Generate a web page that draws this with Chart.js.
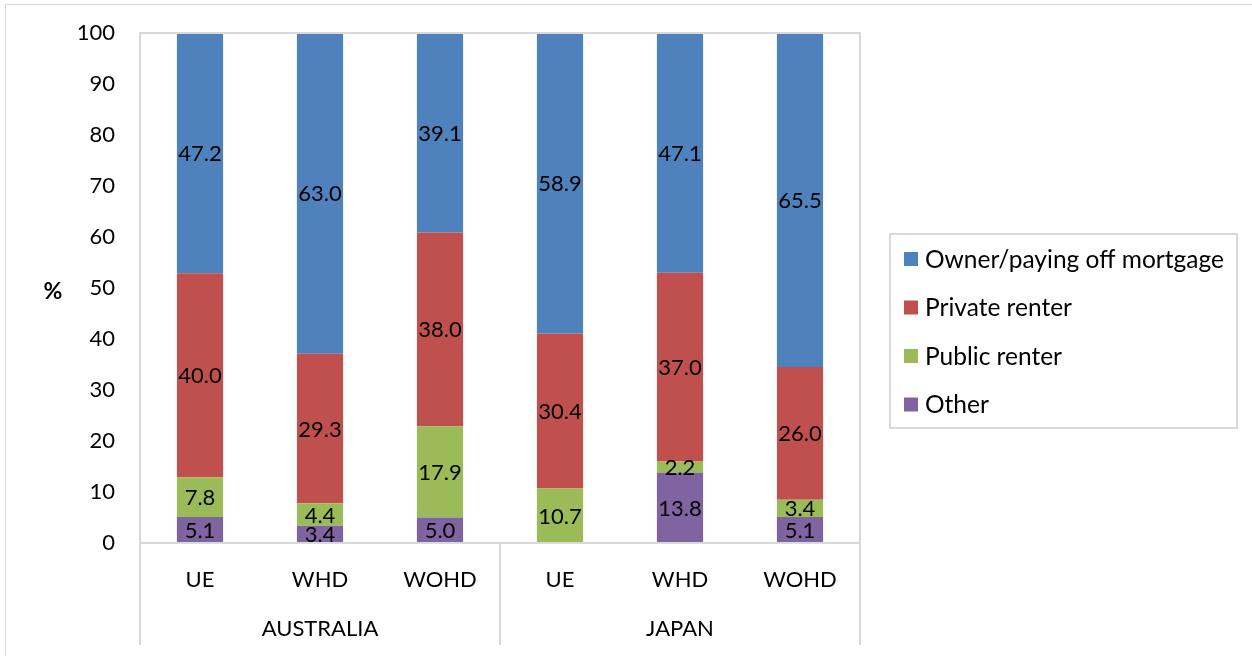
<!DOCTYPE html>
<html>
<head>
<meta charset="utf-8">
<script src="https://cdn.jsdelivr.net/npm/chart.js@4"></script>
<style>
html,body{margin:0;padding:0;background:#fff;}
#wrap{width:1252px;height:656px;position:relative;}
</style>
</head>
<body>
<div id="wrap"><canvas id="c" width="1252" height="656"></canvas></div>
<script>
const categories = ["UE", "WHD", "WOHD", "UE", "WHD", "WOHD"];
const groups = ["AUSTRALIA", "JAPAN"];
const groupSizes = [3, 3];
const seriesNames = ["Other", "Public renter", "Private renter", "Owner/paying off mortgage"];
const other = [5.1, 3.4, 5.0, 0, 13.8, 5.1];
const publicRenter = [7.8, 4.4, 17.9, 10.7, 2.2, 3.4];
const privateRenter = [40.0, 29.3, 38.0, 30.4, 37.0, 26.0];
const owner = [47.2, 63.0, 39.1, 58.9, 47.1, 65.5];
const yTicks = [0, 10, 20, 30, 40, 50, 60, 70, 80, 90, 100];
const colors = ["#8064A2", "#9BBB59", "#C0504D", "#4F81BD"];

const FONT = "Lato, 'Open Sans', 'Liberation Sans', sans-serif";
const GRID = "#D9D9D9";

const decorPlugin = {
  id: 'decor',
  afterDatasetsDraw(chart) {
    const ctx = chart.ctx;
    ctx.save();
    ctx.font = "22px " + FONT;
    ctx.fillStyle = "#000";
    ctx.textAlign = "center";
    ctx.textBaseline = "middle";
    chart.data.datasets.forEach((ds, di) => {
      const meta = chart.getDatasetMeta(di);
      meta.data.forEach((bar, i) => {
        const v = ds.data[i];
        if (!v) return;
        const yc = (bar.y + bar.base) / 2;
        ctx.fillText(v.toFixed(1), bar.x, yc + 1);
      });
    });
    ctx.restore();
  },
  afterDraw(chart) {
    const ctx = chart.ctx;
    const ca = chart.chartArea;
    const x = chart.scales.x;
    ctx.save();
    ctx.strokeStyle = GRID;
    ctx.lineWidth = 1;
    ctx.beginPath();
    ctx.moveTo(5.5, 656); ctx.lineTo(5.5, 4.5); ctx.lineTo(1252, 4.5);
    ctx.stroke();
    ctx.lineWidth = 2;
    ctx.beginPath();
    ctx.rect(ca.left, ca.top, ca.right - ca.left, ca.bottom - ca.top);
    ctx.stroke();
    const n = categories.length;
    const step = (ca.right - ca.left) / n;
    let idx = 0;
    const bounds = [0];
    groupSizes.forEach(s => { idx += s; bounds.push(idx); });
    ctx.beginPath();
    bounds.forEach(b => {
      const px = ca.left + b * step;
      ctx.moveTo(px, ca.bottom); ctx.lineTo(px, 645);
    });
    ctx.stroke();
    ctx.font = "22px " + FONT;
    ctx.fillStyle = "#000";
    ctx.textAlign = "center";
    ctx.textBaseline = "middle";
    groups.forEach((g, gi) => {
      const a = x.getPixelForValue(bounds[gi]);
      const b = x.getPixelForValue(bounds[gi + 1] - 1);
      ctx.fillText(g, (a + b) / 2, 629);
    });
    ctx.font = "bold 23px " + FONT;
    ctx.fillText("%", 53, 292);
    const lx = 890, ly = 234, lw = 347, lh = 194;
    ctx.strokeStyle = GRID;
    ctx.lineWidth = 2;
    ctx.strokeRect(lx, ly, lw, lh);
    ctx.font = "24.5px " + FONT;
    ctx.textAlign = "left";
    const order = [3, 2, 1, 0];
    order.forEach((di, k) => {
      const yy = 259 + k * 48.5;
      ctx.fillStyle = colors[di];
      ctx.fillRect(904, yy - 7, 14, 14);
      ctx.fillStyle = "#000";
      ctx.fillText(seriesNames[di], 925, yy + 1);
    });
    ctx.restore();
  }
};

const datasets = [other, publicRenter, privateRenter, owner].map((d, i) => ({
  label: seriesNames[i],
  data: d,
  backgroundColor: colors[i],
  borderWidth: 0,
  barPercentage: 0.385,
  categoryPercentage: 1.0
}));

new Chart(document.getElementById('c'), {
  type: 'bar',
  data: { labels: categories, datasets },
  options: {
    responsive: false,
    animation: false,
    layout: { padding: { top: 33, right: 392, left: 0, bottom: 0 } },
    plugins: { legend: { display: false }, tooltip: { enabled: false } },
    scales: {
      x: {
        stacked: true,
        grid: { display: false, drawTicks: false },
        border: { display: false },
        ticks: { color: "#000", font: { family: FONT, size: 22 }, padding: 24 },
        afterFit(s) { s.height = 113; s.paddingLeft = 0; s.paddingRight = 0; }
      },
      y: {
        stacked: true,
        min: 0, max: 100,
        afterBuildTicks(s) { s.ticks = yTicks.map(v => ({ value: v })); },
        grid: { display: false, drawTicks: false },
        border: { display: false },
        ticks: { color: "#000", font: { family: FONT, size: 22 }, padding: 25 },
        afterFit(s) { s.width = 140; s.paddingTop = 0; s.paddingBottom = 0; }
      }
    }
  },
  plugins: [decorPlugin]
});
</script>
</body>
</html>
